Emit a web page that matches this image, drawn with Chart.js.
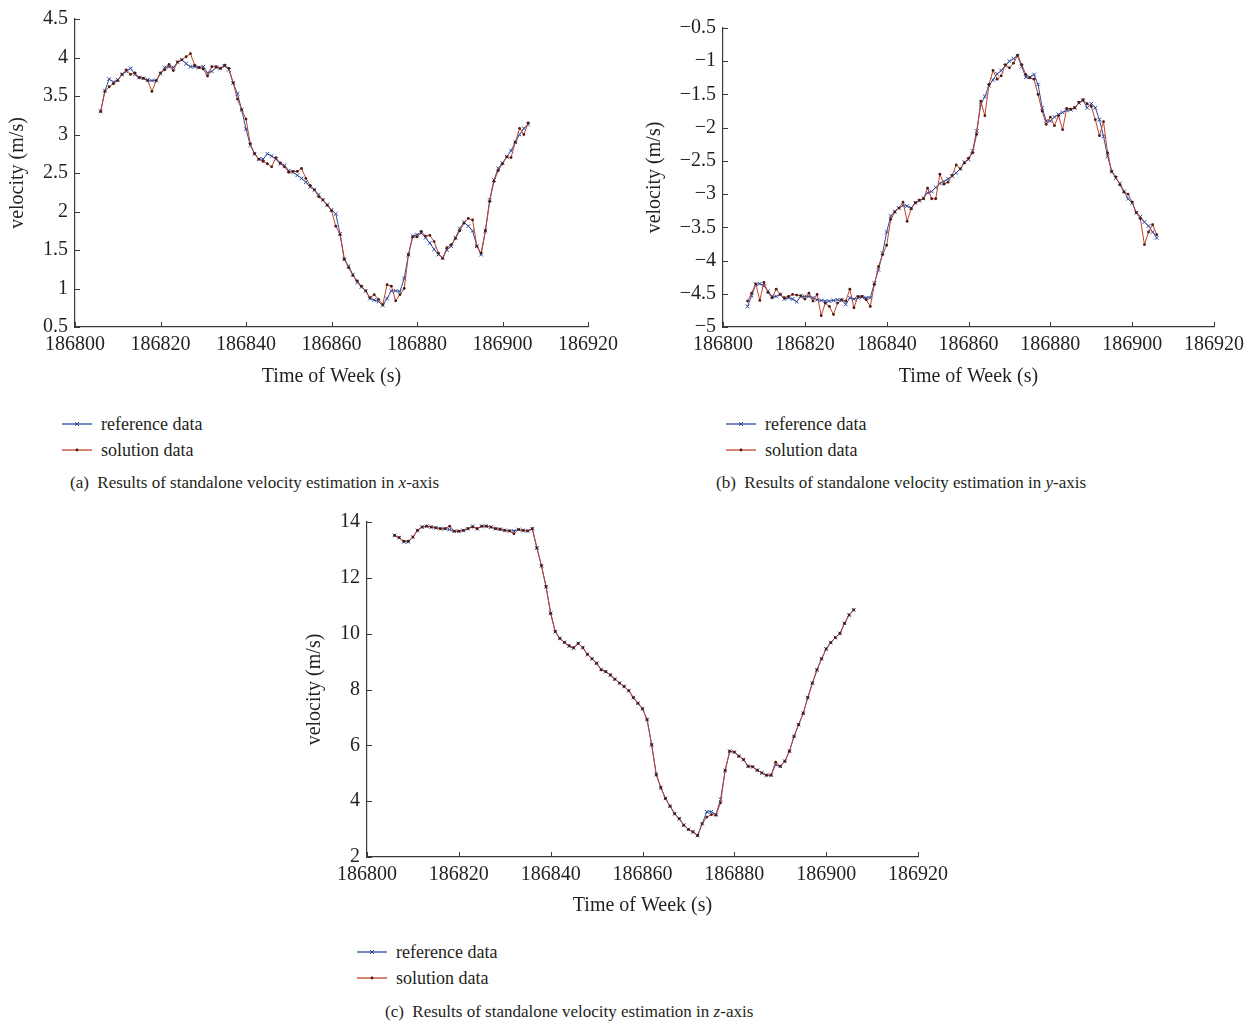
<!DOCTYPE html>
<html>
<head>
<meta charset="utf-8">
<script src="https://cdn.jsdelivr.net/npm/chart.js@4.4.1/dist/chart.umd.min.js"></script>
<style>
  body { margin: 0; background: #fff; }
  #page { position: relative; width: 1255px; height: 1028px; overflow: hidden; font-family: "Liberation Serif", "DejaVu Serif", serif; color: #231f20; }
  canvas { position: absolute; }
  .legend { position: absolute; font-size: 18px; line-height: 26px; }
  .legend div { display: flex; align-items: center; height: 26px; }
  .legend svg { margin-right: 9px; }
  .caption { position: absolute; font-size: 17px; white-space: nowrap; }
</style>
</head>
<body>
<div id="page">
  <canvas id="chartX" width="630" height="395" style="left:0;top:0"></canvas>
  <canvas id="chartY" width="625" height="395" style="left:630px;top:0"></canvas>
  <canvas id="chartZ" width="680" height="420" style="left:290px;top:500px"></canvas>

  <div class="legend" style="left:62px;top:411px" id="legX"></div>
  <div class="legend" style="left:726px;top:411px" id="legY"></div>
  <div class="legend" style="left:357px;top:939px" id="legZ"></div>

  <div class="caption" style="left:70px;top:473px">(a)&nbsp; Results of standalone velocity estimation in <i>x</i>-axis</div>
  <div class="caption" style="left:716px;top:473px">(b)&nbsp; Results of standalone velocity estimation in <i>y</i>-axis</div>
  <div class="caption" style="left:385px;top:1002px">(c)&nbsp; Results of standalone velocity estimation in <i>z</i>-axis</div>
</div>
<script>
// time of week (s)
const times = [
  186806, 186807, 186808, 186809, 186810, 186811, 186812, 186813, 186814, 186815,
  186816, 186817, 186818, 186819, 186820, 186821, 186822, 186823, 186824, 186825,
  186826, 186827, 186828, 186829, 186830, 186831, 186832, 186833, 186834, 186835,
  186836, 186837, 186838, 186839, 186840, 186841, 186842, 186843, 186844, 186845,
  186846, 186847, 186848, 186849, 186850, 186851, 186852, 186853, 186854, 186855,
  186856, 186857, 186858, 186859, 186860, 186861, 186862, 186863, 186864, 186865,
  186866, 186867, 186868, 186869, 186870, 186871, 186872, 186873, 186874, 186875,
  186876, 186877, 186878, 186879, 186880, 186881, 186882, 186883, 186884, 186885,
  186886, 186887, 186888, 186889, 186890, 186891, 186892, 186893, 186894, 186895,
  186896, 186897, 186898, 186899, 186900, 186901, 186902, 186903, 186904, 186905,
  186906
];

// (a) x-axis velocity
const xRef = [
  3.30, 3.57, 3.72, 3.68, 3.71, 3.78, 3.82, 3.86, 3.78, 3.74,
  3.73, 3.71, 3.70, 3.70, 3.79, 3.87, 3.88, 3.87, 3.94, 3.97,
  3.92, 3.88, 3.88, 3.87, 3.88, 3.80, 3.82, 3.87, 3.86, 3.89,
  3.84, 3.67, 3.53, 3.32, 3.07, 2.86, 2.75, 2.68, 2.68, 2.75,
  2.72, 2.68, 2.62, 2.60, 2.53, 2.51, 2.47, 2.43, 2.38, 2.32,
  2.28, 2.22, 2.15, 2.09, 2.02, 1.97, 1.71, 1.38, 1.29, 1.18,
  1.08, 1.02, 0.97, 0.87, 0.85, 0.83, 0.78, 0.87, 0.97, 0.97,
  0.96, 1.13, 1.44, 1.68, 1.70, 1.72, 1.66, 1.59, 1.51, 1.44,
  1.40, 1.50, 1.55, 1.66, 1.78, 1.86, 1.81, 1.75, 1.55, 1.44,
  1.75, 2.15, 2.41, 2.56, 2.63, 2.71, 2.79, 2.90, 3.00, 3.08,
  3.13
];
const xSol = [
  3.30, 3.56, 3.62, 3.66, 3.70, 3.78, 3.84, 3.78, 3.80, 3.74,
  3.73, 3.70, 3.56, 3.70, 3.80, 3.84, 3.91, 3.83, 3.94, 3.97,
  4.01, 4.05, 3.90, 3.87, 3.85, 3.76, 3.88, 3.88, 3.86, 3.90,
  3.86, 3.67, 3.46, 3.32, 3.20, 2.88, 2.75, 2.68, 2.65, 2.62,
  2.58, 2.70, 2.63, 2.58, 2.51, 2.52, 2.52, 2.56, 2.43, 2.34,
  2.28, 2.19, 2.15, 2.08, 2.01, 1.81, 1.70, 1.38, 1.27, 1.17,
  1.10, 1.03, 0.97, 0.88, 0.92, 0.86, 0.79, 1.05, 1.03, 0.84,
  0.92, 1.00, 1.44, 1.67, 1.67, 1.74, 1.68, 1.69, 1.61, 1.46,
  1.39, 1.53, 1.57, 1.65, 1.75, 1.85, 1.91, 1.89, 1.55, 1.46,
  1.75, 2.13, 2.39, 2.53, 2.62, 2.71, 2.70, 2.90, 3.08, 3.00,
  3.15
];

// (b) y-axis velocity
const yRef = [
  -4.69, -4.53, -4.36, -4.35, -4.38, -4.46, -4.54, -4.54, -4.51, -4.58,
  -4.56, -4.58, -4.62, -4.54, -4.54, -4.54, -4.56, -4.59, -4.60, -4.61,
  -4.61, -4.60, -4.59, -4.60, -4.66, -4.56, -4.58, -4.56, -4.55, -4.56,
  -4.56, -4.34, -4.14, -3.89, -3.57, -3.33, -3.26, -3.21, -3.17, -3.18,
  -3.21, -3.13, -3.10, -3.06, -2.98, -2.96, -2.90, -2.84, -2.81, -2.77,
  -2.73, -2.68, -2.62, -2.52, -2.48, -2.35, -2.05, -1.65, -1.53, -1.37,
  -1.28, -1.19, -1.14, -1.07, -1.00, -0.96, -0.92, -1.08, -1.24, -1.24,
  -1.20, -1.35, -1.70, -1.90, -1.90, -1.84, -1.80, -1.77, -1.74, -1.73,
  -1.70, -1.63, -1.59, -1.70, -1.64, -1.70, -1.88, -2.13, -2.43, -2.66,
  -2.76, -2.84, -2.96, -3.07, -3.13, -3.28, -3.34, -3.42, -3.48, -3.57,
  -3.66
];
const ySol = [
  -4.61, -4.49, -4.35, -4.60, -4.33, -4.48, -4.56, -4.43, -4.51, -4.56,
  -4.54, -4.51, -4.52, -4.53, -4.58, -4.49, -4.61, -4.51, -4.83, -4.64,
  -4.69, -4.81, -4.64, -4.59, -4.61, -4.43, -4.71, -4.54, -4.54, -4.59,
  -4.69, -4.36, -4.09, -3.91, -3.77, -3.38, -3.27, -3.21, -3.12, -3.41,
  -3.22, -3.13, -3.09, -3.07, -2.91, -3.07, -3.07, -2.70, -2.85, -2.82,
  -2.72, -2.56, -2.62, -2.53, -2.46, -2.38, -2.10, -1.60, -1.82, -1.35,
  -1.14, -1.27, -1.22, -1.05, -1.10, -1.03, -0.91, -1.05, -1.20, -1.25,
  -1.27, -1.50, -1.75, -1.95, -1.84, -1.97, -1.82, -2.03, -1.71, -1.72,
  -1.70, -1.62, -1.58, -1.64, -1.68, -1.88, -2.12, -1.91, -2.38, -2.66,
  -2.74, -2.86, -2.97, -3.00, -3.12, -3.28, -3.37, -3.76, -3.57, -3.46,
  -3.61
];

// (c) z-axis velocity
const zRef = [
  13.52, 13.44, 13.29, 13.29, 13.46, 13.70, 13.82, 13.85, 13.82, 13.79,
  13.76, 13.76, 13.73, 13.67, 13.67, 13.70, 13.76, 13.85, 13.76, 13.85,
  13.85, 13.82, 13.76, 13.74, 13.70, 13.68, 13.68, 13.73, 13.70, 13.68,
  13.76, 13.07, 12.43, 11.68, 10.73, 10.07, 9.83, 9.69, 9.55, 9.48,
  9.65, 9.50, 9.26, 9.10, 8.94, 8.72, 8.64, 8.52, 8.37, 8.23,
  8.11, 7.96, 7.71, 7.51, 7.31, 6.92, 6.02, 4.95, 4.48, 4.10,
  3.82, 3.55, 3.37, 3.14, 2.99, 2.90, 2.77, 3.19, 3.62, 3.62,
  3.52, 4.06, 5.10, 5.79, 5.76, 5.61, 5.49, 5.25, 5.23, 5.11,
  5.01, 4.93, 4.93, 5.31, 5.25, 5.43, 5.79, 6.32, 6.74, 7.15,
  7.71, 8.23, 8.70, 9.10, 9.45, 9.68, 9.86, 10.01, 10.37, 10.67,
  10.85
];
const zSol = [
  13.52, 13.44, 13.31, 13.31, 13.46, 13.70, 13.82, 13.85, 13.82, 13.79,
  13.76, 13.76, 13.85, 13.67, 13.67, 13.70, 13.76, 13.82, 13.76, 13.85,
  13.85, 13.82, 13.76, 13.74, 13.70, 13.68, 13.58, 13.73, 13.70, 13.68,
  13.76, 13.07, 12.43, 11.68, 10.73, 10.07, 9.83, 9.69, 9.57, 9.50,
  9.65, 9.50, 9.26, 9.10, 8.94, 8.70, 8.64, 8.52, 8.37, 8.23,
  8.11, 7.96, 7.71, 7.51, 7.31, 6.92, 6.02, 4.95, 4.48, 4.10,
  3.82, 3.55, 3.37, 3.14, 2.99, 2.90, 2.77, 3.19, 3.43, 3.52,
  3.50, 3.94, 5.10, 5.79, 5.76, 5.61, 5.49, 5.25, 5.23, 5.11,
  5.01, 4.93, 4.93, 5.40, 5.25, 5.43, 5.79, 6.32, 6.74, 7.15,
  7.71, 8.23, 8.70, 9.10, 9.45, 9.68, 9.86, 10.01, 10.37, 10.67,
  10.85
];

const xTicks = [186800, 186920, 20];
const legendLabels = ['reference data', 'solution data'];

const blue = '#2f4a9b';
const red = '#c0432b';
const dotColor = '#4a1a12';
const axisColor = '#3a3a3a';
const textColor = '#231f20';
const fontFamily = '"Liberation Serif", "DejaVu Serif", serif';
const axisFont = { family: fontFamily, size: 20 };

// ticks pointing into the plot, like the original figure
const innerTicks = {
  id: 'innerTicks',
  afterDraw(chart) {
    const { ctx, scales: { x, y } } = chart;
    ctx.save();
    ctx.strokeStyle = axisColor;
    ctx.lineWidth = 1;
    ctx.beginPath();
    x.ticks.forEach(t => {
      const px = Math.round(x.getPixelForValue(t.value)) + 0.5;
      ctx.moveTo(px, x.top);
      ctx.lineTo(px, x.top - 5);
    });
    y.ticks.forEach(t => {
      const py = Math.round(y.getPixelForValue(t.value)) + 0.5;
      ctx.moveTo(y.right, py);
      ctx.lineTo(y.right + 5, py);
    });
    ctx.stroke();
    ctx.restore();
  }
};

const fmt = v => String(Math.round(v * 10) / 10).replace('-', '\u2212');

function makeChart(id, ref, sol, yMin, yMax, yStep, box) {
  const pts = arr => arr.map((v, i) => ({ x: times[i], y: v }));
  return new Chart(document.getElementById(id), {
    type: 'line',
    data: {
      datasets: [
        {
          label: legendLabels[0],
          data: pts(ref),
          borderColor: blue,
          borderWidth: 1,
          pointStyle: 'crossRot',
          pointRadius: 2.6,
          pointBorderColor: blue,
          pointBorderWidth: 1,
          order: 1
        },
        {
          label: legendLabels[1],
          data: pts(sol),
          borderColor: red,
          borderWidth: 1,
          pointStyle: 'circle',
          pointRadius: 1.4,
          pointBackgroundColor: dotColor,
          pointBorderColor: dotColor,
          pointBorderWidth: 0,
          order: 0
        }
      ]
    },
    options: {
      responsive: false,
      animation: false,
      layout: { padding: { top: box.top, right: box.right, left: 0, bottom: 0 } },
      plugins: { legend: { display: false }, tooltip: { enabled: false } },
      scales: {
        x: {
          type: 'linear',
          min: xTicks[0],
          max: xTicks[1],
          grid: { display: false, drawTicks: false },
          border: { color: axisColor, width: 1.2 },
          afterFit: s => { s.height = box.xh; },
          ticks: {
            stepSize: xTicks[2],
            padding: 6,
            maxRotation: 0,
            color: textColor,
            font: axisFont,
            callback: v => String(v)
          },
          title: {
            display: true,
            text: 'Time of Week (s)',
            color: textColor,
            font: axisFont,
            padding: { top: 0, bottom: box.xtp }
          }
        },
        y: {
          min: yMin,
          max: yMax,
          grid: { display: false, drawTicks: false },
          border: { color: axisColor, width: 1.2 },
          afterFit: s => { s.width = box.yw; },
          ticks: {
            stepSize: yStep,
            padding: 7,
            color: textColor,
            font: axisFont,
            callback: fmt
          },
          title: {
            display: true,
            text: 'velocity (m/s)',
            color: textColor,
            font: axisFont,
            padding: { top: box.ytp, bottom: 0 }
          }
        }
      }
    },
    plugins: [innerTicks]
  });
}

makeChart('chartX', xRef, xSol, 0.5, 4.5, 0.5, { top: 16, right: 42, yw: 75, xh: 68, ytp: 6, xtp: 6 });
makeChart('chartY', yRef, ySol, -5, -0.5, 0.5, { top: 28, right: 41, yw: 93, xh: 68, ytp: 13, xtp: 6 });
makeChart('chartZ', zRef, zSol, 2, 14, 2, { top: 22, right: 52, yw: 77, xh: 63, ytp: 13, xtp: 2 });

// legends drawn as html so the text stays selectable
const swatch = (color, marker) => `
  <svg width="30" height="10" viewBox="0 0 30 10">
    <line x1="0" y1="5" x2="30" y2="5" stroke="${color}" stroke-width="1.3"/>
    ${marker}
  </svg>`;
const crossMark = `<path d="M13 3 L17 7 M17 3 L13 7" stroke="${blue}" stroke-width="1"/>`;
const dotMark = `<circle cx="15" cy="5" r="1.4" fill="${dotColor}"/>`;

['legX', 'legY', 'legZ'].forEach(id => {
  document.getElementById(id).innerHTML = `
    <div>${swatch(blue, crossMark)}<span>${legendLabels[0]}</span></div>
    <div>${swatch(red, dotMark)}<span>${legendLabels[1]}</span></div>
  `;
});
</script>
</body>
</html>
